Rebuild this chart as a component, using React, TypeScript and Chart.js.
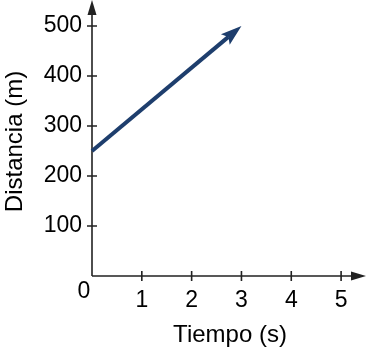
import { useEffect, useRef } from 'react';
import { Chart, registerables } from 'chart.js';

Chart.register(...registerables);

const timeS = [0, 3];
const distanceM = [250, 500];
const xTickValues = [1, 2, 3, 4, 5];
const yTickValues = [100, 200, 300, 400, 500];
const xTitle = 'Tiempo (s)';
const yTitle = 'Distancia (m)';
const originLabel = '0';
const xMaxValue = 5.5;
const yMaxValue = 550;

const NAVY = '#1e3e6d';
const AXIS = '#222222';
const FONT = '"Liberation Sans", Arial, sans-serif';

const decorPlugin = {
  id: 'decor',
  afterDraw(chart: any) {
    const { ctx, chartArea } = chart;
    const xs = chart.scales.x;
    const ys = chart.scales.y;
    const left = chartArea.left;
    const bottom = chartArea.bottom;
    const right = chartArea.right;
    const top = chartArea.top;
    ctx.save();
    // axes
    ctx.strokeStyle = AXIS;
    ctx.fillStyle = AXIS;
    ctx.lineWidth = 1.6;
    ctx.beginPath();
    ctx.moveTo(left, bottom);
    ctx.lineTo(right - 12, bottom);
    ctx.moveTo(left, bottom);
    ctx.lineTo(left, top + 12);
    ctx.stroke();
    // x arrow
    ctx.beginPath();
    ctx.moveTo(right, bottom);
    ctx.lineTo(right - 15, bottom - 4.5);
    ctx.lineTo(right - 15, bottom + 4.5);
    ctx.closePath();
    ctx.fill();
    // y arrow
    ctx.beginPath();
    ctx.moveTo(left, top - 1);
    ctx.lineTo(left - 4.5, top + 14);
    ctx.lineTo(left + 4.5, top + 14);
    ctx.closePath();
    ctx.fill();
    // tick marks
    ctx.beginPath();
    xTickValues.forEach((v) => {
      const px = xs.getPixelForValue(v);
      ctx.moveTo(px, bottom - 5);
      ctx.lineTo(px, bottom + 5);
    });
    yTickValues.forEach((v) => {
      const py = ys.getPixelForValue(v);
      ctx.moveTo(left - 5, py);
      ctx.lineTo(left + 5, py);
    });
    ctx.stroke();

    // text
    ctx.fillStyle = '#000';
    ctx.font = `23px ${FONT}`;
    ctx.textAlign = 'center';
    ctx.textBaseline = 'alphabetic';
    ctx.fillText(originLabel, left - 8, bottom + 21.5);

    ctx.font = `24px ${FONT}`;
    ctx.fillText(xTitle, 230, 342);
    ctx.save();
    ctx.translate(22, 141.5);
    ctx.rotate(-Math.PI / 2);
    ctx.fillText(yTitle, 0, 0);
    ctx.restore();

    // data line with arrowhead
    const meta = chart.getDatasetMeta(0);
    const pts = meta.data;
    const p0 = pts[0];
    const p1 = pts[pts.length - 1];
    const dx = p1.x - p0.x;
    const dy = p1.y - p0.y;
    const len = Math.hypot(dx, dy);
    const ux = dx / len;
    const uy = dy / len;
    const nx = -uy;
    const ny = ux;
    const headLen = 21;
    const headHalf = 6.8;
    ctx.strokeStyle = NAVY;
    ctx.fillStyle = NAVY;
    ctx.lineWidth = 4;
    ctx.lineCap = 'butt';
    ctx.beginPath();
    ctx.moveTo(p0.x, p0.y);
    ctx.lineTo(p1.x - ux * (headLen - 4), p1.y - uy * (headLen - 4));
    ctx.stroke();
    const bx = p1.x - ux * headLen;
    const by = p1.y - uy * headLen;
    ctx.beginPath();
    ctx.moveTo(p1.x, p1.y);
    ctx.lineTo(bx + nx * headHalf, by + ny * headHalf);
    ctx.lineTo(p1.x - ux * (headLen - 4), p1.y - uy * (headLen - 4));
    ctx.lineTo(bx - nx * headHalf, by - ny * headHalf);
    ctx.closePath();
    ctx.fill();
    ctx.restore();
  },
};

export default function App() {
  const canvasRef = useRef<HTMLCanvasElement | null>(null);

  useEffect(() => {
    const canvas = canvasRef.current;
    if (!canvas) return;
    const chart = new Chart(canvas, {
      type: 'scatter',
      data: {
        datasets: [
          {
            label: 'Distancia',
            data: timeS.map((t, i) => ({ x: t, y: distanceM[i] })),
            showLine: false,
            pointRadius: 0,
            borderColor: NAVY,
            backgroundColor: NAVY,
          },
        ],
      },
      options: {
        animation: false,
        responsive: false,
        devicePixelRatio: 1,
        layout: { padding: { top: 1, right: 2, left: 0, bottom: 0 } },
        plugins: {
          legend: { display: false },
          tooltip: { enabled: false },
        },
        scales: {
          x: {
            type: 'linear',
            min: 0,
            max: xMaxValue,
            afterBuildTicks: (s: any) => {
              s.ticks = xTickValues.map((v) => ({ value: v }));
            },
            afterFit: (s: any) => {
              s.height = 76;
              s.paddingLeft = 0;
              s.paddingRight = 0;
            },
            grid: { display: false, drawTicks: false },
            border: { display: false },
            ticks: {
              autoSkip: false,
              maxRotation: 0,
              padding: 11,
              color: '#000',
              font: { family: FONT, size: 23 },
            },
          },
          y: {
            type: 'linear',
            min: 0,
            max: yMaxValue,
            afterBuildTicks: (s: any) => {
              s.ticks = yTickValues.map((v) => ({ value: v }));
            },
            afterFit: (s: any) => {
              s.width = 92;
              s.paddingTop = 0;
              s.paddingBottom = 0;
            },
            grid: { display: false, drawTicks: false },
            border: { display: false },
            ticks: {
              autoSkip: false,
              padding: 10,
              color: '#000',
              font: { family: FONT, size: 23 },
            },
          },
        },
      },
      plugins: [decorPlugin],
    });
    return () => chart.destroy();
  }, []);

  return (
    <div style={{ position: 'fixed', left: 0, top: 0, width: 368, height: 352, background: '#fff' }}>
      <canvas ref={canvasRef} width={368} height={352} style={{ display: 'block' }} />
    </div>
  );
}
